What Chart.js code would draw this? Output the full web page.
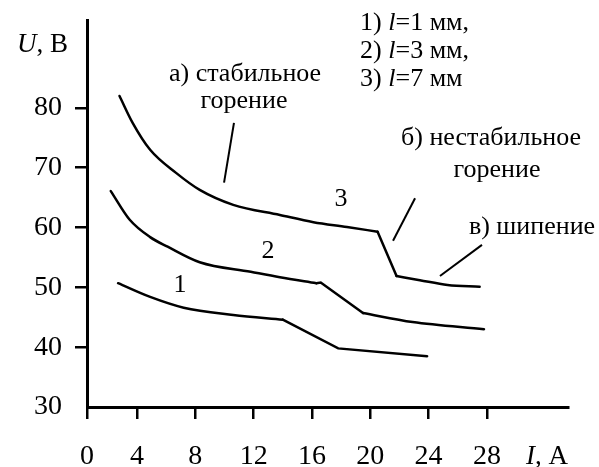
<!DOCTYPE html>
<html>
<head>
<meta charset="utf-8">
<script src="https://cdn.jsdelivr.net/npm/chart.js@4.4.1/dist/chart.umd.min.js"></script>
<style>
  html, body { margin: 0; padding: 0; background: #fff; }
</style>
</head>
<body>
<canvas id="chart-iu" width="599" height="467"></canvas>
<script>
// ВАХ дуги: l = 1, 3, 7 мм
var current1 = [2.7, 4.9, 7.2, 10.6, 14.0, 17.8, 23.9];
var voltage1 = [50.7, 48.4, 46.6, 45.4, 44.6, 39.8, 38.5];

var current2 = [2.2, 3.5, 4.9, 6.1, 8.3, 11.8, 13.8, 16.3, 16.6, 19.5, 22.9, 27.8];
var voltage2 = [66.1, 61.3, 58.4, 56.8, 54.2, 52.6, 51.7, 50.7, 50.8, 45.7, 44.2, 43.0];

var current3 = [2.8, 3.7, 4.9, 6.7, 8.3, 10.6, 13.8, 16.1, 18.4, 20.5, 21.8, 23.4, 25.3, 27.5];
var voltage3 = [82.0, 77.5, 73.0, 69.1, 66.3, 63.8, 62.1, 60.9, 60.1, 59.3, 51.9, 51.2, 50.4, 50.1];

var xTicks = [0, 4, 8, 12, 16, 20, 24, 28];
var yTicks = [30, 40, 50, 60, 70, 80];

// какие куски кривых плавные, а какие — прямые изломы
var pieces = [
    { xs: current1, ys: voltage1, from: 0, to: 4, smooth: true },
    { xs: current1, ys: voltage1, from: 4, to: 6, smooth: false },
    { xs: current2, ys: voltage2, from: 0, to: 7, smooth: true },
    { xs: current2, ys: voltage2, from: 7, to: 9, smooth: false },
    { xs: current2, ys: voltage2, from: 9, to: 11, smooth: true },
    { xs: current3, ys: voltage3, from: 0, to: 9, smooth: true },
    { xs: current3, ys: voltage3, from: 9, to: 10, smooth: false },
    { xs: current3, ys: voltage3, from: 10, to: 13, smooth: true }
];

var FONT = '"Liberation Serif", "Times New Roman", serif';

function piece(p) {
    var pts = [];
    for (let i = p.from; i <= p.to; i++) {
        pts.push({ x: p.xs[i], y: p.ys[i] });
    }
    return {
        data: pts,
        borderColor: '#000',
        borderWidth: 2.5,
        borderCapStyle: 'round',
        pointRadius: 0,
        fill: false,
        tension: 0,
        cubicInterpolationMode: p.smooth ? 'monotone' : 'default'
    };
}

// подписи на поле графика (в единицах осей)
var notes = [
    { x: 11.41, y: 84.5, align: 'center', runs: [['а) стабильное']] },
    { x: 11.34, y: 80.0, align: 'center', runs: [['горение']] },
    { x: 28.28, y: 73.8, align: 'center', runs: [['б) нестабильное']] },
    { x: 28.69, y: 68.5, align: 'center', runs: [['горение']] },
    { x: 31.09, y: 58.9, align: 'center', runs: [['в) шипение']] },
    { x: 17.99, y: 63.6, align: 'center', runs: [['3']] },
    { x: 12.98, y: 54.9, align: 'center', runs: [['2']] },
    { x: 6.95, y: 49.2, align: 'center', runs: [['1']] },
    { x: 19.3, y: 93.0, align: 'left', runs: [['1) '], ['l', true], ['=1 мм,']] },
    { x: 19.3, y: 88.4, align: 'left', runs: [['2) '], ['l', true], ['=3 мм,']] },
    { x: 19.3, y: 83.7, align: 'left', runs: [['3) '], ['l', true], ['=7 мм']] }
];

var leaders = [
    [10.65, 77.5, 9.97, 67.5],
    [23.07, 64.9, 21.56, 57.8],
    [27.66, 57.1, 24.78, 51.9]
];

function drawRuns(ctx, runs, x, y, align, size) {
    var w = 0;
    size = size || 26;
    runs.forEach(function (r) {
        ctx.font = (r[1] ? 'italic ' : '') + size + 'px ' + FONT;
        w += ctx.measureText(r[0]).width;
    });
    var pos = align === 'center' ? x - w / 2 : (align === 'right' ? x - w : x);
    ctx.textAlign = 'left';
    ctx.textBaseline = 'alphabetic';
    runs.forEach(function (r) {
        ctx.font = (r[1] ? 'italic ' : '') + size + 'px ' + FONT;
        ctx.fillText(r[0], pos, y);
        pos += ctx.measureText(r[0]).width;
    });
}

var notesPlugin = {
    id: 'notes',
    afterDraw: function (chart) {
        var ctx = chart.ctx;
        var sx = chart.scales.x, sy = chart.scales.y;
        var area = chart.chartArea;
        ctx.save();
        ctx.fillStyle = '#000';
        ctx.strokeStyle = '#000';
        ctx.lineWidth = 2;
        leaders.forEach(function (l) {
            ctx.beginPath();
            ctx.moveTo(sx.getPixelForValue(l[0]), sy.getPixelForValue(l[1]));
            ctx.lineTo(sx.getPixelForValue(l[2]), sy.getPixelForValue(l[3]));
            ctx.stroke();
        });
        notes.forEach(function (n) {
            drawRuns(ctx, n.runs, sx.getPixelForValue(n.x), sy.getPixelForValue(n.y), n.align);
        });
        // подписи осей
        drawRuns(ctx, [['U', true], [', В']], area.left - 70, area.top + 32, 'left', 27);
        drawRuns(ctx, [['I', true], [', А']], area.right, 464, 'right', 27);
        ctx.restore();
    }
};

var ctx1 = document.getElementById('chart-iu').getContext('2d');

new Chart(ctx1, {
    type: 'line',
    data: {
        datasets: pieces.map(piece)
    },
    options: {
        responsive: false,
        animation: false,
        layout: { padding: { left: 0, top: 20, right: 31, bottom: 0 } },
        plugins: {
            legend: { display: false },
            tooltip: { enabled: false }
        },
        scales: {
            x: {
                type: 'linear',
                min: 0.57,
                max: 33.56,
                border: { display: true, color: '#000', width: 3 },
                grid: {
                    drawOnChartArea: false,
                    tickLength: 12,
                    lineWidth: 2.5,
                    color: '#000'
                },
                ticks: {
                    color: '#000',
                    font: { family: FONT, size: 28 },
                    padding: 21,
                    autoSkip: false,
                    maxRotation: 0,
                    callback: function (value, index) {
                        return String(xTicks[index]);
                    }
                },
                afterBuildTicks: function (scale) {
                    scale.ticks = xTicks.map(function (v) {
                        return { value: Math.max(v, scale.min) };
                    });
                },
                afterFit: function (scale) {
                    scale.height = 60;
                    scale.paddingLeft = 0;
                    scale.paddingRight = 0;
                }
            },
            y: {
                type: 'linear',
                min: 30,
                max: 94.7,
                border: { display: true, color: '#000', width: 3 },
                grid: {
                    drawOnChartArea: false,
                    tickLength: 12,
                    lineWidth: 2.5,
                    color: function (c) {
                        return c.tick && c.tick.value === 30 ? 'rgba(0,0,0,0)' : '#000';
                    }
                },
                ticks: {
                    color: '#000',
                    font: { family: FONT, size: 28 },
                    padding: 13
                },
                afterBuildTicks: function (scale) {
                    scale.ticks = yTicks.map(function (v) { return { value: v }; });
                },
                afterFit: function (scale) {
                    scale.width = 87;
                    scale.paddingTop = 0;
                    scale.paddingBottom = 0;
                }
            }
        }
    },
    plugins: [notesPlugin]
});
</script>
</body>
</html>
